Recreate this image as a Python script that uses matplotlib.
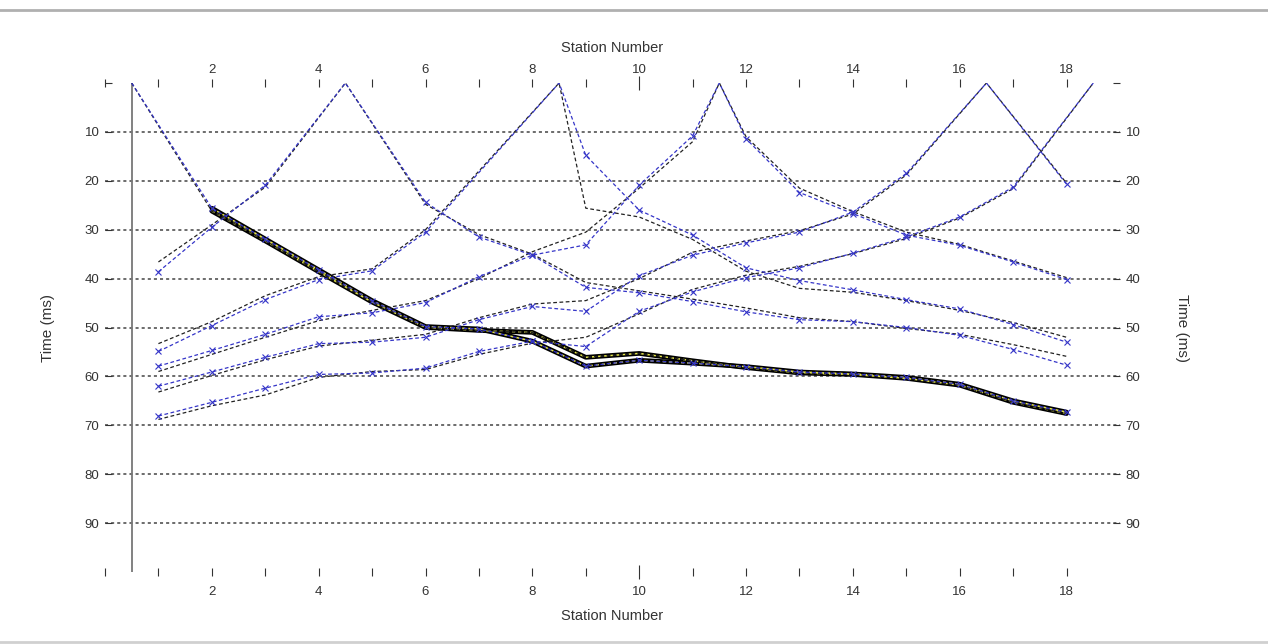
import numpy as np
import matplotlib
matplotlib.use("Agg")
import matplotlib.pyplot as plt
from matplotlib.lines import Line2D

# ---------------- data ----------------
stations = list(range(1, 19))
shot_positions = [0.5, 4.5, 8.5, 11.5, 16.5, 18.5]

# observed first-arrival times (ms) at stations 1..18 (None = no pick)
obs_05 = [None, 25.6, 31.9, 38.2, 44.5, 49.8, 50.3, 52.8, 57.9, 56.7, 57.3, 58.0, 59.1, 59.5, 60.2, 61.6, 65.0, 67.3]
obs_45 = [38.6, 29.5, 20.9, None, None, 24.4, 31.5, 35.2, 41.8, 42.9, 44.7, 46.8, 48.4, 48.8, 50.0, 51.6, 54.5, 57.7]
obs_85 = [54.9, 49.6, 44.3, 40.2, 38.4, 30.5, None, None, 14.8, 26.0, 31.1, 37.8, 40.4, 42.3, 44.3, 46.2, 49.4, 53.0]
obs_115 = [57.9, 54.7, 51.4, 47.8, 47.0, 44.9, 39.6, 35.2, 33.1, 20.9, 10.8, 11.4, 22.4, 26.7, 31.1, 33.2, 36.6, 40.2]
obs_165 = [62.0, 59.1, 56.1, 53.3, 53.0, 52.0, 48.4, 45.7, 46.7, 39.4, 35.2, 32.7, 30.5, 26.4, 18.5, None, None, 20.7]
obs_185 = [68.1, 65.3, 62.4, 59.6, 59.3, 58.3, 54.9, 52.8, 53.9, 46.7, 42.7, 39.8, 37.8, 34.8, 31.5, 27.4, 21.3, None]

# calculated (model) times (ms) at stations 1..18
calc_05 = [None, 26.2, 32.3, 38.6, 44.8, 50.0, 50.6, 51.0, 56.1, 55.3, 56.8, 58.2, 59.3, 59.6, 60.4, 61.8, 65.3, 67.6]
calc_45 = [36.6, 29.0, 21.3, None, None, 24.8, 31.0, 35.0, 40.8, 42.5, 44.2, 46.0, 48.0, 48.8, 50.2, 51.4, 53.5, 55.9]
calc_85 = [53.3, 48.8, 43.5, 39.6, 38.0, 30.0, None, None, 25.6, 27.4, 32.0, 38.5, 42.0, 42.8, 44.5, 46.5, 49.0, 52.0]
calc_115 = [59.0, 55.5, 52.0, 48.6, 46.5, 44.5, 40.0, 34.5, 30.5, 21.5, 12.0, 11.0, 21.5, 26.3, 30.5, 33.0, 36.4, 39.8]
calc_165 = [63.2, 59.8, 56.6, 53.8, 52.6, 51.4, 48.0, 45.2, 44.5, 40.0, 34.6, 32.3, 30.2, 26.8, 18.8, None, None, 20.5]
calc_185 = [68.8, 66.0, 63.8, 60.2, 59.0, 58.6, 55.5, 53.2, 52.0, 47.2, 42.2, 39.3, 37.5, 34.9, 31.8, 27.6, 21.6, None]

obs_all = [obs_05, obs_45, obs_85, obs_115, obs_165, obs_185]
calc_all = [calc_05, calc_45, calc_85, calc_115, calc_165, calc_185]

x_ticks = list(range(0, 19))
x_tick_labels = [str(s) if (s % 2 == 0 and s > 0) else "" for s in x_ticks]
y_ticks = list(range(0, 100, 10))
y_tick_labels = [str(v) if v > 0 else "" for v in y_ticks]
grid_values = list(range(10, 100, 10))

# ---------------- style ----------------
FONT = ["Liberation Sans Narrow", "Liberation Sans", "DejaVu Sans"]
plt.rcParams["font.family"] = FONT
TXT = "#333333"
BLUE = "#3535c8"
DASH = (0, (3, 2))

fig = plt.figure(figsize=(12.68, 6.44), dpi=100)
ax = fig.add_axes([105 / 1268, 1 - 572 / 644, (1120 - 105) / 1268, (572 - 83) / 644])
ax.set_xlim(0, 19)
ax.set_ylim(100, 0)
for s in ax.spines.values():
    s.set_visible(False)


def picked(vals):
    return [(s, v) for s, v in zip(stations, vals) if v is not None]


def with_source(src, vals):
    pts = sorted(picked(vals) + [(src, 0.0)])
    return [p[0] for p in pts], [p[1] for p in pts]


# gridlines
for g in grid_values:
    ax.axhline(g, color="#444444", lw=1.1, ls=(0, (2, 2)), zorder=1)

# source line at first shot
ax.axvline(shot_positions[0], color="#777777", lw=1.3, zorder=2)

# thick highlighted curve of shot 0.5
for arr in (obs_05, calc_05):
    pts = picked(arr)
    xs = [p[0] for p in pts]
    ys = [p[1] for p in pts]
    ax.plot(xs, ys, color="black", lw=3.4, solid_capstyle="round", zorder=3)
    ax.plot(xs, ys, color="#e6e64a", lw=1.1, ls=(0, (2, 2)), zorder=4)

# all shots: calculated (black dashed) and observed (blue dashed + x)
for src, ob, ca in zip(shot_positions, obs_all, calc_all):
    cx, cy = with_source(src, ca)
    ax.plot(cx, cy, color="#222222", lw=0.9, ls=DASH, zorder=5)
    ox, oy = with_source(src, ob)
    ax.plot(ox, oy, color=BLUE, lw=0.9, ls=DASH, zorder=6)
    pts = picked(ob)
    ax.plot([p[0] for p in pts], [p[1] for p in pts], ls="none", marker="x", ms=4, mew=0.8,
            color=BLUE, zorder=7)

# ticks
ax.set_xticks(x_ticks)
ax.set_xticklabels(x_tick_labels)
ax.set_yticks(y_ticks)
ax.set_yticklabels(y_tick_labels)
ax.tick_params(axis="x", which="both", top=True, bottom=True, labeltop=False, labelbottom=True,
               direction="inout", length=6, width=0.8, color="#333333", pad=7,
               labelsize=9.5, labelcolor=TXT)
ax.tick_params(axis="y", which="both", left=True, right=True, labelleft=True, labelright=True,
               direction="in", length=5, width=0.8, color="#333333", pad=4,
               labelsize=9.5, labelcolor=TXT)
t10 = ax.xaxis.get_major_ticks()[10]
t10.tick1line.set_markersize(10)
t10.tick2line.set_markersize(10)

ax.set_xlabel("Station Number", fontsize=10.5, color=TXT, labelpad=8)
ax.set_ylabel("Time (ms)", fontsize=11, color=TXT, labelpad=21)

top = ax.secondary_xaxis("top")
top.set_xticks(x_ticks)
top.set_xticklabels(x_tick_labels)
top.tick_params(axis="x", length=0, pad=5, labelsize=9.5, labelcolor=TXT)
for s in top.spines.values():
    s.set_visible(False)
top.set_xlabel("Station Number", fontsize=10.5, color=TXT, labelpad=9)

right = ax.secondary_yaxis("right")
right.set_yticks([])
for s in right.spines.values():
    s.set_visible(False)
right.set_ylabel("Time (ms)", fontsize=11, color=TXT, rotation=-90, labelpad=50)

# separator lines
fig.add_artist(Line2D([0, 1], [1 - 10 / 644] * 2, transform=fig.transFigure, color="#b0b0b0", lw=2))
fig.add_artist(Line2D([0, 1], [1 - 642 / 644] * 2, transform=fig.transFigure, color="#d0d0d0", lw=2))

fig.savefig("out.png", dpi=100, facecolor="white")
